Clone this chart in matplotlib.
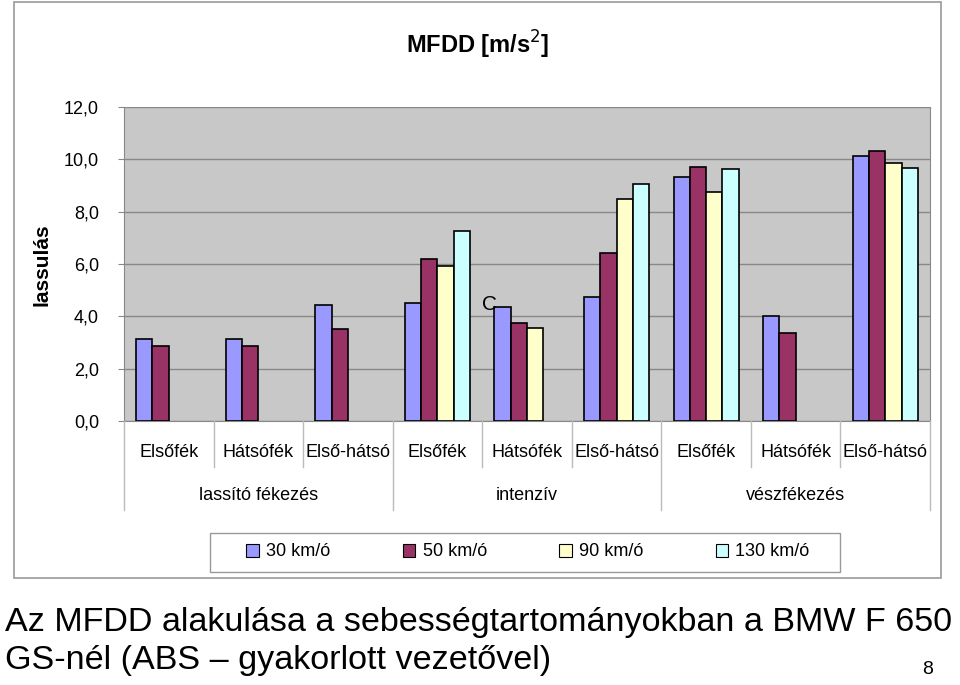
import numpy as np
import matplotlib
matplotlib.use('Agg')
import matplotlib.pyplot as plt
from matplotlib.patches import Rectangle
from matplotlib.lines import Line2D

plt.rcParams['font.family'] = ['Liberation Sans', 'DejaVu Sans']

# Data
groups = ['lassító fékezés', 'intenzív', 'vészfékezés']
brakes = ['Elsőfék', 'Hátsófék', 'Első-hátsó']
speeds = ['30 km/ó', '50 km/ó', '90 km/ó', '130 km/ó']
colors = ['#9999FF', '#993366', '#FFFFCC', '#CCFFFF']

v30 = [3.12, 3.12, 4.45, 4.50, 4.37, 4.75, 9.31, 4.00, 10.14]
v50 = [2.87, 2.87, 3.50, 6.19, 3.76, 6.43, 9.69, 3.37, 10.32]
v90 = [np.nan, np.nan, np.nan, 5.94, 3.55, 8.50, 8.75, np.nan, 9.87]
v130 = [np.nan, np.nan, np.nan, 7.26, np.nan, 9.07, 9.63, np.nan, 9.68]
series = [v30, v50, v90, v130]

yticks = [0, 2, 4, 6, 8, 10, 12]

W, H = 960, 685
fig = plt.figure(figsize=(W / 100, H / 100), dpi=100)

def fx(px):
    return px / W

def fy(py):
    return 1 - py / H

# outer chart border
fig.patches.append(Rectangle((fx(14), fy(578)), fx(941) - fx(14), fy(2) - fy(578),
                             transform=fig.transFigure, fill=False, edgecolor='#999999', lw=1.2))

ax = fig.add_axes([fx(124), fy(421), fx(930) - fx(124), fy(107) - fy(421)])
ax.set_facecolor('#C8C8C8')
ax.set_xlim(0, 9)
ax.set_ylim(0, 12)

bw = 0.182
x = np.arange(9) + 0.5
for k, vals in enumerate(series):
    vals = np.array(vals, dtype=float)
    mask = ~np.isnan(vals)
    ax.bar(x[mask] + (k - 1.5) * bw, vals[mask], width=bw, color=colors[k],
           edgecolor='black', lw=1.2, zorder=3, label=speeds[k])

ax.set_yticks(yticks)
ax.set_yticklabels([f'{t:.1f}'.replace('.', ',') for t in yticks], fontsize=13)
ax.yaxis.grid(True, color='#888888', lw=1.0, zorder=0)
ax.tick_params(axis='y', length=4, color='#888888', pad=14)
ax.set_xticks([])
ax.spines['top'].set_visible(False)
for s in ['left', 'right', 'bottom']:
    ax.spines[s].set_color('#888888')

# category labels and dividers below the axis
labels = brakes * 3
for i, lab in enumerate(labels):
    ax.text(x[i], -1.2, lab, ha='center', va='center', fontsize=13,
            transform=ax.transData, clip_on=False)
for i in range(10):
    y_end = fy(510) if i % 3 == 0 else fy(467)
    xx = ax.transData.transform((i, 0))[0] / W
    fig.add_artist(Line2D([xx, xx], [fy(421), y_end], color='#BBBBBB', lw=1.0,
                          transform=fig.transFigure))
for g, name in enumerate(groups):
    xx = ax.transData.transform((g * 3 + 1.5, 0))[0] / W
    fig.text(xx, fy(496), name, ha='center', va='center', fontsize=13)

# stray label in the original
fig.text(fx(490), fy(304), 'C', ha='center', va='center', fontsize=15)

fig.text(fx(478), fy(45), 'MFDD [m/s$^2$]', ha='center', va='center',
         fontsize=17, fontweight='bold')
fig.text(fx(42), fy(265), 'lassulás', ha='center', va='center', rotation=90,
         fontsize=15, fontweight='bold')

# legend: frame drawn separately so it can be wider than the entries
fig.patches.append(Rectangle((fx(210), fy(572)), fx(840) - fx(210), fy(533) - fy(572),
                             transform=fig.transFigure, fill=False, edgecolor='#999999', lw=1.0))
handles = [Rectangle((0, 0), 1, 1, facecolor=c, edgecolor='black', lw=0.8) for c in colors]
fig.legend(handles, speeds, loc='center', bbox_to_anchor=(fx(528), fy(552)),
           ncol=4, frameon=False, fontsize=13, columnspacing=4.0,
           handlelength=0.7, handleheight=0.7, handletextpad=0.4)

# slide caption
fig.text(fx(5), fy(622), 'Az MFDD alakulása a sebességtartományokban a BMW F 650',
         ha='left', va='center', fontsize=24.6)
fig.text(fx(5), fy(661), 'GS-nél (ABS – gyakorlott vezetővel)',
         ha='left', va='center', fontsize=24.6)
fig.text(fx(928), fy(670), '8', ha='center', va='center', fontsize=14)

fig.savefig('out.png', dpi=100, facecolor='white')
